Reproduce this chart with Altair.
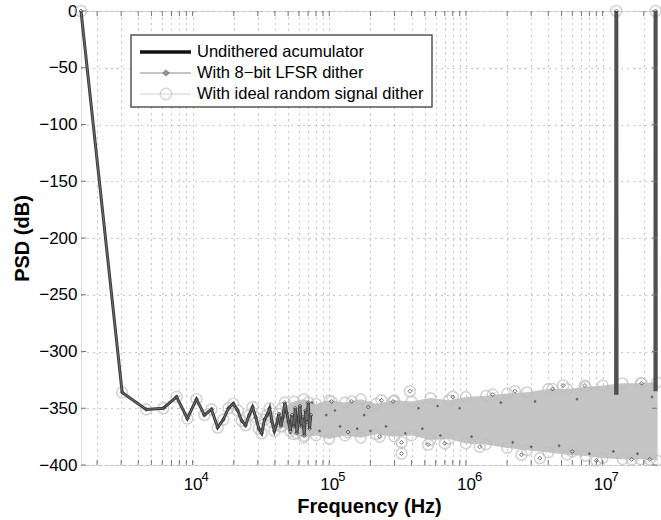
import altair as alt
import pandas as pd

F0 = 50e6 / 32768  # FFT bin spacing (Hz)

# ---- low-frequency bins ----
low_bins = list(range(1, 49))
low_psd = [0, -336, -351, -350, -340, -359, -342, -356, -351, -367,
           -360, -350, -346, -352, -361, -365, -356, -349, -358, -368,
           -372, -360, -356, -350, -362, -370, -364, -355, -366, -358,
           -345, -354, -362, -370, -356, -366, -350, -372, -360, -348,
           -366, -358, -374, -352, -362, -345, -368, -356]

# ---- dense noise band envelope ----
band_freq = [4.5e4, 5.5e4, 6.5e4, 8e4, 1.0e5, 1.3e5, 1.7e5, 2.2e5, 3.0e5, 4.0e5, 5.5e5,
             7.5e5, 1.0e6, 1.4e6, 2.0e6, 2.8e6, 4.0e6, 5.5e6, 7.5e6, 1.0e7, 1.4e7,
             1.9e7, 2.5e7]
band_hi = [-350, -344, -342, -346, -343, -345, -342, -346, -343, -344, -341,
           -343, -340, -339, -337, -336, -333, -333, -331, -330, -328,
           -328, -327]
band_lo = [-366, -373, -376, -374, -377, -374, -376, -373, -375, -374, -378,
           -377, -381, -382, -385, -387, -389, -391, -392, -394, -395,
           -395, -396]

# ---- visible outlier points ----
out_freq = [1.04e5, 1.46e5, 1.93e5, 2.41e5, 2.93e5, 3.89e5, 8.0e5, 1.57e6, 2.28e6,
            4.3e6, 5.14e6, 7.41e6, 1.93e7,
            1.375e5, 2.34e5, 3.38e5, 3.38e5, 5.29e5, 7.0e5, 1.26e6, 2.55e6,
            3.47e6, 6.0e6, 9.0e6, 1.63e7, 2.21e7]
out_psd = [-344, -344, -349, -343, -344, -335, -340, -338, -335,
           -333, -330, -330, -328,
           -371, -375, -380, -390, -382, -381, -384, -391,
           -394, -388, -396, -395, -395]

# ---- dark specks inside the band (LFSR dither points) ----
speck_freq = [5.2e4, 5.8e4, 7.5e4, 8.5e4, 9.5e4, 1.1e5, 1.2e5, 1.6e5, 1.8e5, 2.0e5,
              2.6e5, 3.6e5, 4.5e5, 4.8e5, 6.2e5, 6.5e5, 9.0e5, 1.1e6, 1.8e6, 2.2e6,
              3.0e6, 3.2e6, 4.8e6, 6.5e6, 8.0e6, 1.2e7, 1.8e7, 2.3e7]
speck_psd = [-372, -362, -345, -370, -356, -352, -366, -368, -356, -370,
             -366, -372, -350, -368, -348, -374, -350, -375, -345, -380,
             -384, -344, -383, -342, -390, -388, -390, -340]

# ---- undithered spurs ----
spur_freq = [12.55e6, 12.6e6, 12.65e6, 24.35e6, 24.4e6, 24.45e6]
spur_psd = [-338, 0, -338, -335, 0, -335]
spur_group = ["a", "a", "a", "b", "b", "b"]
spur_top_freq = [12.6e6, 24.4e6]
spur_top_psd = [0, 0]

x_grid = [2e3, 3e3, 4e3, 5e3, 6e3, 7e3, 8e3, 9e3,
          1e4, 2e4, 3e4, 4e4, 5e4, 6e4, 7e4, 8e4, 9e4,
          1e5, 2e5, 3e5, 4e5, 5e5, 6e5, 7e5, 8e5, 9e5,
          1e6, 2e6, 3e6, 4e6, 5e6, 6e6, 7e6, 8e6, 9e6,
          1e7, 2e7]
decades = [1e4, 1e5, 1e6, 1e7]
exponents = ["4", "5", "6", "7"]
y_grid = [0, -50, -100, -150, -200, -250, -300, -350, -400]

legend_labels = ["Undithered acumulator", "With 8\u2212bit LFSR dither",
                 "With ideal random signal dither"]

low_df = pd.DataFrame({"f": [k * F0 for k in low_bins], "psd": low_psd})
band_df = pd.DataFrame({"f": band_freq, "hi": band_hi, "lo": band_lo})
edge_df = pd.DataFrame({"f": band_freq + band_freq, "psd": band_hi + band_lo})
out_df = pd.DataFrame({"f": out_freq, "psd": out_psd})
speck_df = pd.DataFrame({"f": speck_freq, "psd": speck_psd})
spur_df = pd.DataFrame({"f": spur_freq, "psd": spur_psd, "g": spur_group})
top_df = pd.DataFrame({"f": spur_top_freq, "psd": spur_top_psd})
pts_df = pd.concat([low_df, out_df, top_df], ignore_index=True)
xg_df = pd.DataFrame({"f": x_grid})
yg_df = pd.DataFrame({"psd": y_grid})
exp_df = pd.DataFrame({"f": decades, "e": exponents})

FONT = "Liberation Sans"
xscale = alt.Scale(type="log", domain=[F0, 25e6], nice=False, zero=False)
yscale = alt.Scale(domain=[-400, 0], nice=False, zero=False)

x_axis = alt.Axis(
    values=x_grid,
    labelExpr="(datum.value == 10000 || datum.value == 100000 || datum.value == 1000000 "
              "|| datum.value == 10000000) ? '10' : ''",
    grid=True, gridDash=[1, 5], gridColor="#8a8a8a", gridWidth=1,
    tickSize=0, domain=False, labelFont=FONT, labelFontSize=17, labelColor="#000",
    labelPadding=11, labelOverlap=False, labelFlush=False,
    title="Frequency (Hz)", titleFont=FONT, titleFontSize=20, titleFontWeight="bold",
    titleColor="#000", titlePadding=4)
y_axis = alt.Axis(
    values=y_grid, grid=True, gridDash=[1, 5], gridColor="#8a8a8a", gridWidth=1,
    tickSize=0, domain=False, labelFont=FONT, labelFontSize=17, labelColor="#000",
    labelPadding=4, title="PSD (dB)", titleFont=FONT, titleFontSize=20,
    titleFontWeight="bold", titleColor="#000", titlePadding=6)


def X(field="f"):
    return alt.X(field, type="quantitative", scale=xscale, axis=x_axis)


def Y(field="psd"):
    return alt.Y(field, type="quantitative", scale=yscale, axis=y_axis)


band = alt.Chart(band_df).mark_area(color="#c4c4c4", interpolate="linear").encode(
    x=X("f"), y=Y("hi"), y2="lo:Q")
edge_pts = alt.Chart(edge_df).mark_point(shape="circle", filled=False, color="#bdbdbd",
                                         size=110, strokeWidth=1.5).encode(x=X(), y=Y())
specks = alt.Chart(speck_df).mark_point(shape="diamond", filled=True, color="#4a4a4a",
                                        size=10, opacity=0.8).encode(x=X(), y=Y())

ideal_line = alt.Chart(low_df).mark_line(color="#c8c8c8", strokeWidth=1).encode(x=X(), y=Y())
ideal_pts = alt.Chart(pts_df).mark_point(shape="circle", filled=False, color="#c2c2c2",
                                         size=120, strokeWidth=1.6).encode(x=X(), y=Y())
und_line = alt.Chart(low_df).mark_line(color="#3c3c3c", strokeWidth=3).encode(x=X(), y=Y())
und_spur = alt.Chart(spur_df).mark_line(color="#505050", strokeWidth=4).encode(
    x=X(), y=Y(), detail="g:N")
lfsr_line = alt.Chart(low_df).mark_line(color="#707070", strokeWidth=1).encode(x=X(), y=Y())
lfsr_pts = alt.Chart(pts_df).mark_point(shape="diamond", filled=False, color="#3a3a3a",
                                        size=16, strokeWidth=1).encode(x=X(), y=Y())

# inward ticks (MATLAB style)
t_bot = alt.Chart(xg_df).mark_rule(color="#777").encode(x=X("f"), y=alt.value(454), y2=alt.value(449))
t_top = alt.Chart(xg_df).mark_rule(color="#777").encode(x=X("f"), y=alt.value(0), y2=alt.value(5))
t_left = alt.Chart(yg_df).mark_rule(color="#777").encode(y=Y("psd"), x=alt.value(0), x2=alt.value(5))
t_right = alt.Chart(yg_df).mark_rule(color="#777").encode(y=Y("psd"), x=alt.value(571), x2=alt.value(576))

# superscript exponents of the decade labels
sup = alt.Chart(exp_df).mark_text(font=FONT, fontSize=13, align="left", baseline="alphabetic",
                                  dx=9, color="#000").encode(
    x=X("f"), y=alt.value(470), text="e:N")

# legend box
one = pd.DataFrame({"a": [0]})
lg_box = alt.Chart(one).mark_rect(
    fill="white", stroke="#555", strokeWidth=1.5).encode(
    x=alt.value(50), x2=alt.value(351), y=alt.value(24), y2=alt.value(96))
rows_y = [41, 62, 83]
lg = [lg_box]
lg.append(alt.Chart(one).mark_rule(color="#111", strokeWidth=3.5).encode(
    x=alt.value(59), x2=alt.value(110), y=alt.value(rows_y[0])))
lg.append(alt.Chart(one).mark_rule(color="#8a8a8a", strokeWidth=1).encode(
    x=alt.value(59), x2=alt.value(110), y=alt.value(rows_y[1])))
lg.append(alt.Chart(one).mark_point(shape="diamond", filled=False, color="#666", size=22).encode(
    x=alt.value(85), y=alt.value(rows_y[1])))
lg.append(alt.Chart(one).mark_rule(color="#d0d0d0", strokeWidth=1).encode(
    x=alt.value(59), x2=alt.value(110), y=alt.value(rows_y[2])))
lg.append(alt.Chart(one).mark_point(shape="circle", filled=False, color="#c4c4c4", size=130,
                                    strokeWidth=1.4).encode(x=alt.value(85), y=alt.value(rows_y[2])))
for i, lab in enumerate(legend_labels):
    lg.append(alt.Chart(pd.DataFrame({"label": [lab]})).mark_text(
        font=FONT, fontSize=16.5, align="left", baseline="middle", color="#000").encode(
        text="label:N", x=alt.value(116), y=alt.value(rows_y[i])))

chart = alt.layer(
    band, edge_pts, ideal_line, ideal_pts, und_line, und_spur, lfsr_line, lfsr_pts, specks,
    t_bot, t_top, t_left, t_right, sup, *lg
).properties(
    width=576, height=454,
    padding={"left": 81, "top": 11, "right": 4, "bottom": 55},
    autosize=alt.AutoSizeParams(type="none"),
).configure_view(stroke="#777", strokeWidth=1.5).configure(background="white")

chart.save("out.html", embed_options={"renderer": "svg", "actions": False})
